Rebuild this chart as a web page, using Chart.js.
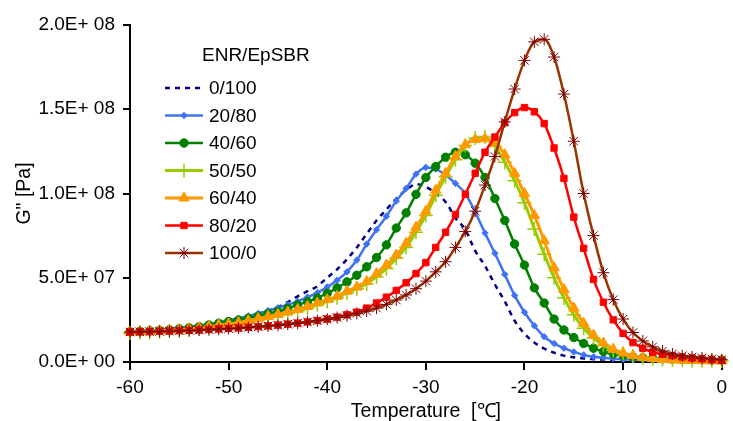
<!DOCTYPE html>
<html><head><meta charset="utf-8">
<script src="https://cdn.jsdelivr.net/npm/chart.js@4/dist/chart.umd.min.js"></script>
<style>html,body{margin:0;padding:0;background:#fff;}#wrap{width:733px;height:421px;}</style>
</head><body><div id="wrap"><canvas id="c" width="733" height="421"></canvas></div>
<script>
// Temperature (°C)
const temperatures = [-60,-59,-58,-57,-56,-55,-54,-53,-52,-51,-50,-49,-48,-47,-46,-45,-44,-43,-42,-41,-40,-39,-38,-37,-36,-35,-34,-33,-32,-31,-30,-29,-28,-27,-26,-25,-24,-23,-22,-21,-20,-19,-18,-17,-16,-15,-14,-13,-12,-11,-10,-9,-8,-7,-6,-5,-4,-3,-2,-1,0];
// G'' values in units of 1E+07 Pa
const g_0_100 = [1.80,1.82,1.85,1.88,1.92,1.97,2.03,2.10,2.18,2.27, 2.37,2.50,2.67,2.85,3.05,3.26,3.56,3.90,4.20,4.50, 5.00,5.50,6.10,6.80,7.60,8.40,9.05,9.70,10.20,10.55, 10.40,10.00,9.50,8.55,7.85,6.60,5.70,4.60,3.60,2.45, 1.68,1.15,0.80,0.55,0.38,0.28,0.21,0.17,0.14,0.12, 0.10,0.09,0.08,0.07,0.07,0.06,0.06,0.05,0.05,0.05,0.05];
const g_20_80 = [1.80,1.83,1.87,1.91,1.96,2.02,2.08,2.16,2.25,2.36, 2.48,2.60,2.73,2.88,3.05,3.22,3.40,3.60,3.85,4.12, 4.45,4.85,5.35,6.05,7.00,7.85,8.65,9.55,10.30,11.15, 11.55,11.45,11.10,10.60,10.00,8.90,7.65,6.45,5.20,3.95, 2.95,2.15,1.50,1.10,0.82,0.60,0.42,0.31,0.25,0.20, 0.16,0.13,0.11,0.10,0.09,0.08,0.07,0.07,0.06,0.06,0.05];
const g_40_60 = [1.80,1.82,1.85,1.88,1.92,1.97,2.03,2.10,2.20,2.30, 2.40,2.49,2.60,2.72,2.87,3.00,3.18,3.38,3.58,3.80, 4.08,4.40,4.75,5.15,5.65,6.20,6.95,7.95,8.85,9.95, 10.95,11.60,12.15,12.45,12.30,11.80,10.95,9.70,8.40,7.00, 5.75,4.40,3.50,2.55,1.90,1.45,1.10,0.82,0.62,0.48, 0.38,0.31,0.26,0.22,0.19,0.17,0.15,0.14,0.13,0.12,0.12];
const g_50_50 = [1.72,1.74,1.76,1.79,1.82,1.86,1.91,1.97,2.04,2.12, 2.20,2.28,2.38,2.50,2.62,2.76,2.90,3.02,3.20,3.40, 3.60,3.82,4.10,4.35,4.65,5.05,5.55,6.15,6.80,7.70, 8.70,9.90,11.00,12.00,12.85,13.30,13.35,12.80,11.85,10.75, 9.45,7.90,6.40,5.00,3.80,2.80,2.00,1.42,1.00,0.68, 0.50,0.36,0.26,0.20,0.15,0.12,0.10,0.09,0.08,0.07,0.06];
const g_60_40 = [1.78,1.80,1.82,1.85,1.88,1.92,1.97,2.03,2.10,2.18, 2.26,2.33,2.45,2.58,2.70,2.82,2.96,3.12,3.30,3.50, 3.70,3.90,4.20,4.45,4.78,5.25,5.75,6.35,7.05,8.00, 8.95,10.20,11.20,12.20,12.90,13.20,13.25,13.00,12.30,11.20, 10.00,8.70,7.20,5.60,4.30,3.20,2.30,1.60,1.13,0.75, 0.53,0.38,0.27,0.20,0.15,0.12,0.10,0.09,0.08,0.07,0.06];
const g_80_20 = [1.78,1.79,1.80,1.82,1.84,1.86,1.88,1.90,1.93,1.96, 1.99,2.02,2.06,2.10,2.14,2.19,2.25,2.31,2.38,2.46, 2.55,2.66,2.80,2.96,3.20,3.50,3.85,4.25,4.70,5.25, 5.90,6.80,7.70,8.75,9.95,11.20,12.45,13.35,14.20,14.80, 15.10,14.85,14.15,12.70,10.90,8.60,6.75,4.90,3.55,2.50, 1.70,1.15,0.82,0.58,0.46,0.37,0.30,0.24,0.19,0.14,0.10];
const g_100_0 = [1.78,1.79,1.80,1.81,1.83,1.85,1.87,1.89,1.92,1.95, 1.98,2.01,2.05,2.09,2.13,2.18,2.24,2.30,2.37,2.45, 2.54,2.64,2.75,2.88,3.02,3.20,3.42,3.68,3.98,4.35, 4.80,5.35,5.95,6.80,7.75,8.95,10.50,12.20,14.25,16.20, 17.90,19.00,19.15,18.10,15.90,13.10,10.00,7.50,5.30,3.70, 2.55,1.75,1.25,0.90,0.65,0.48,0.37,0.30,0.24,0.18,0.14];

const seriesNames = ["0/100","20/80","40/60","50/50","60/40","80/20","100/0"];
const seriesValues = [g_0_100,g_20_80,g_40_60,g_50_50,g_60_40,g_80_20,g_100_0];
const xTickValues = [-60,-50,-40,-30,-20,-10,0];
const xTickLabels = ["-60","-50","-40","-30","-20","-10","0"];
const yTickValues = [0,5,10,15,20];
const yTickLabels = ["0.0E+ 00","5.0E+ 07","1.0E+ 08","1.5E+ 08","2.0E+ 08"];
const legendTitle = "ENR/EpSBR";
const xTitle = "Temperature  [\u2103]";
const yTitle = "G\" [Pa]";

// styles (kept separate from the data)
const styles = [
  {line:'#000080', width:2.5, dash:[5,5], point:'circle', radius:0, fill:'#000080', pborder:'#000080', pbw:1},
  {line:'#3f72f5', width:2.5, dash:[], point:'rectRot', radius:3.2, fill:'#3f72f5', pborder:'#3f72f5', pbw:1},
  {line:'#008000', width:2.5, dash:[], point:'circle', radius:4.2, fill:'#008000', pborder:'#008000', pbw:1},
  {line:'#99cc00', width:3, dash:[], point:'cross', radius:7, fill:'#99cc00', pborder:'#99cc00', pbw:1.5},
  {line:'#ff9900', width:3, dash:[], point:'triangle', radius:6, fill:'#ff9900', pborder:'#ff9900', pbw:1},
  {line:'#ff0000', width:2.5, dash:[], point:'rect', radius:4.5, fill:'#ff0000', pborder:'#ff0000', pbw:1},
  {line:'#993300', width:2.5, dash:[], point:'star', radius:6, fill:'#800000', pborder:'#800000', pbw:1}
];

const FONT = 'Liberation Sans, Arial, sans-serif';

const datasets = seriesNames.map((name, i) => ({
  label: name,
  data: temperatures.map((t, k) => ({x: t, y: seriesValues[i][k]})),
  borderColor: styles[i].line,
  borderWidth: styles[i].width,
  borderDash: styles[i].dash,
  pointStyle: styles[i].point,
  pointRadius: styles[i].radius,
  pointBackgroundColor: styles[i].fill,
  pointBorderColor: styles[i].pborder,
  pointBorderWidth: styles[i].pbw,
  fill: false,
  cubicInterpolationMode: 'monotone',
  order: seriesNames.length - i,
  clip: 10
}));

const legendPlugin = {
  id: 'customLegend',
  afterDatasetsDraw(chart) {
    const ctx = chart.ctx;
    ctx.save();
    ctx.fillStyle = '#000';
    ctx.font = '19px ' + FONT;
    ctx.textBaseline = 'middle';
    ctx.textAlign = 'left';
    ctx.fillText(legendTitle, 202, 56);
    const x0 = 165, x1 = 203, tx = 209;
    seriesNames.forEach((name, i) => {
      const y = 88 + i * 27.5;
      const s = styles[i];
      ctx.save();
      ctx.strokeStyle = s.line;
      ctx.lineWidth = s.width;
      ctx.setLineDash(s.dash);
      ctx.beginPath(); ctx.moveTo(x0, y); ctx.lineTo(x1, y); ctx.stroke();
      ctx.setLineDash([]);
      if (s.radius > 0) {
        ctx.fillStyle = s.fill; ctx.strokeStyle = s.pborder; ctx.lineWidth = s.pbw;
        Chart.helpers.drawPoint(ctx, {pointStyle: s.point, radius: s.radius, borderWidth: s.pbw, rotation: 0}, (x0 + x1) / 2, y);
      }
      ctx.restore();
      ctx.fillStyle = '#000';
      ctx.fillText(name, tx, y + 1);
    });
    ctx.restore();
  }
};

new Chart(document.getElementById('c'), {
  type: 'line',
  data: {datasets},
  options: {
    responsive: false,
    animation: false,
    layout: {padding: {top: 25, right: 5, left: 0, bottom: 0}},
    plugins: {legend: {display: false}, tooltip: {enabled: false}},
    scales: {
      x: {
        type: 'linear', min: -60, max: 0,
        afterBuildTicks(scale) { scale.ticks = xTickValues.map(v => ({value: v})); },
        afterFit(scale) { scale.height = 59; },
        ticks: {
          color: '#000', font: {family: FONT, size: 19}, padding: 6, maxRotation: 0,
          callback: (v) => { const k = xTickValues.indexOf(v); return k >= 0 ? xTickLabels[k] : ''; }
        },
        grid: {display: true, drawOnChartArea: false, drawTicks: true, tickLength: 8, color: '#000', lineWidth: 2},
        border: {display: true, color: '#000', width: 2},
        title: {display: true, text: xTitle, color: '#000', font: {family: FONT, size: 19.5, lineHeight: 1.0}, padding: {top: 0, bottom: 0}}
      },
      y: {
        min: 0, max: 20,
        afterBuildTicks(scale) { scale.ticks = yTickValues.map(v => ({value: v})); },
        afterFit(scale) { scale.width = 130; },
        ticks: {
          color: '#000', font: {family: FONT, size: 19}, padding: 8,
          callback: (v) => { const k = yTickValues.indexOf(v); return k >= 0 ? yTickLabels[k] : ''; }
        },
        grid: {display: true, drawOnChartArea: false, drawTicks: true, tickLength: 7, color: '#000', lineWidth: 2},
        border: {display: true, color: '#000', width: 2},
        title: {display: true, text: yTitle, color: '#000', font: {family: FONT, size: 19.5}, padding: {top: 13, bottom: 0}}
      }
    }
  },
  plugins: [legendPlugin]
});
</script>
</body></html>
